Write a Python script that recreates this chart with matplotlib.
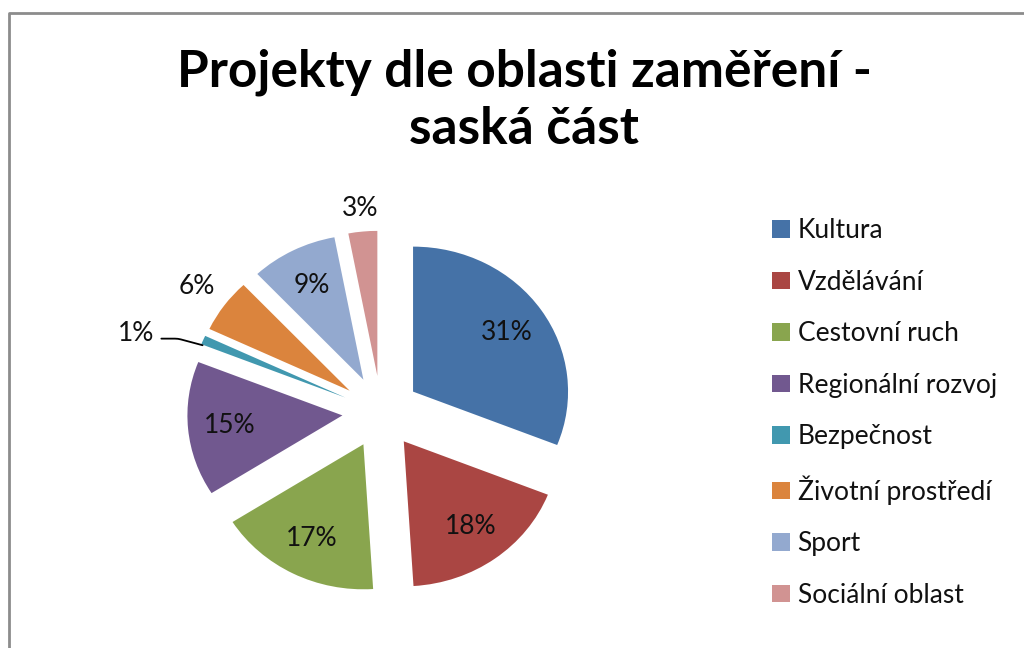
import numpy as np
import matplotlib.pyplot as plt
from matplotlib.lines import Line2D

# data
categories = ["Kultura", "Vzdělávání", "Cestovní ruch", "Regionální rozvoj",
              "Bezpečnost", "Životní prostředí", "Sport", "Sociální oblast"]
values = [31, 18, 17, 15, 1, 6, 9, 3]
colors = ["#4572A7", "#AA4643", "#89A54E", "#71588F",
          "#4198AF", "#DB843D", "#93A9CF", "#D19392"]

plt.rcParams['font.family'] = ['Lato', 'DejaVu Sans']

fig = plt.figure(figsize=(10.24, 6.48), dpi=100)

# pie axes: slightly wider than tall, like the original picture
W, H = 1024, 648
Rx, Ry = 155, 145
cx, cy = 381, 412
lim = 1.5
ax = fig.add_axes([(cx - lim * Rx) / W, (H - cy - lim * Ry) / H,
                   2 * lim * Rx / W, 2 * lim * Ry / H])

explode = 0.25
wedges, _ = ax.pie(values, colors=colors, startangle=90, counterclock=False,
                   explode=[explode] * len(values), radius=1,
                   wedgeprops=dict(linewidth=0))
ax.set_xlim(-lim, lim)
ax.set_ylim(-lim, lim)
ax.set_aspect('auto')
ax.axis('off')

# percentage labels
total = sum(values)
cum = np.cumsum([0] + values[:-1])
for v, c0 in zip(values, cum):
    mid = 360 * (c0 + v / 2) / total  # clockwise from top
    a = np.deg2rad(mid)
    ex, ey = explode * np.sin(a), explode * np.cos(a)
    txt = f"{v}%"
    if v >= 9:
        d = 0.73
        ax.text(ex + d * np.sin(a), ey + d * np.cos(a), txt,
                ha='center', va='center', fontsize=19, color='#111111')
    elif v == 1:
        a2 = np.deg2rad(mid - 5.3)
        tx, ty = ex + 1.42 * np.sin(a2), ey + 1.42 * np.cos(a2)
        a3 = np.deg2rad(mid - 2)
        px, py = ex + 0.99 * np.sin(a3), ey + 0.99 * np.cos(a3)
        ax.annotate(txt, xy=(px, py), xytext=(tx, ty), ha='center', va='center',
                    fontsize=19, color='#111111',
                    arrowprops=dict(arrowstyle='-', color='black', lw=1.3,
                                    shrinkA=3, shrinkB=0, relpos=(1.0, 0.3),
                                    connectionstyle="angle,angleA=0,angleB=-15,rad=3"))
    else:
        d = 1.22 if v == 6 else 1.16
        ax.text(ex + d * np.sin(a), ey + d * np.cos(a), txt,
                ha='center', va='center', fontsize=19, color='#111111')

fig.text(524 / W, 1 - 101 / H, "Projekty dle oblasti zaměření -\nsaská část",
         ha='center', va='center', fontsize=37, fontweight='bold',
         linespacing=1.25)

leg = fig.legend(wedges, categories, loc='upper left',
                 bbox_to_anchor=(754 / W, 1 - 200 / H), frameon=False,
                 fontsize=19, handlelength=0.65, handleheight=0.65,
                 handletextpad=0.3, labelspacing=1.0, borderpad=0.2)
for t in leg.get_texts():
    t.set_color('#111111')

# border (left and top only visible)
fig.add_artist(Line2D([9 / W, 9 / W, 1.0], [0.0, 1 - 13 / H, 1 - 13 / H],
                      transform=fig.transFigure, color='#8c8c8c', lw=2))

fig.savefig("out.png", dpi=100)
